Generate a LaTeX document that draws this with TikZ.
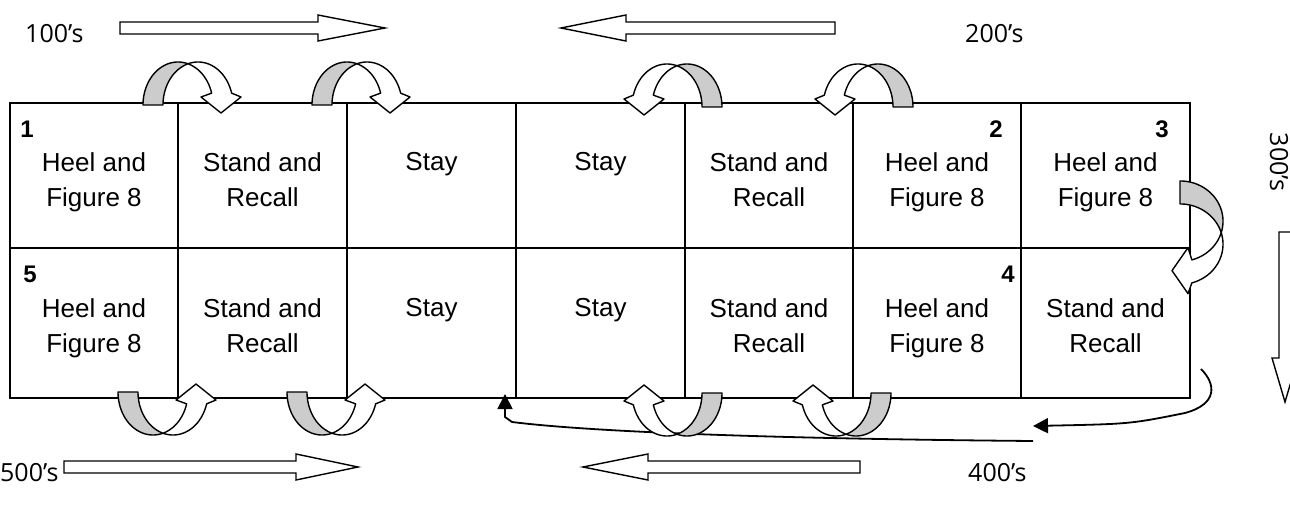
\documentclass[tikz,border=0pt]{standalone}
\usepackage{fontspec}
\setmainfont{Liberation Sans}
\newfontfamily\labelfont{Open Sans}
\usetikzlibrary{arrows.meta}
\definecolor{bandgray}{RGB}{204,204,204}
\tikzset{
  band/.style={draw=black, line width=1.4pt, line join=round},
  gridline/.style={draw=black, line width=2pt},
  blockarrow/.style={draw=black, fill=white, line width=1.4pt},
  celltext/.style={font=\fontsize{26}{35.5}\selectfont, align=center, anchor=north, inner sep=0pt},
  numtext/.style={font=\fontsize{24}{28}\selectfont\bfseries, anchor=base, inner sep=0pt},
  lbl/.style={font=\labelfont\fontsize{25}{30}\selectfont, inner sep=0pt},
  connector/.style={draw=black, line width=1.8pt, -{Triangle[length=15pt,width=15pt]}}
}
\newcommand\curvedarrow[1]{%
  \begin{scope}[#1]
    \filldraw[band, fill=bandgray] plot[domain=180:73.4,samples=40] ({-12+35*cos(\x)},{-43*sin(\x)}) -- plot[domain=106.6:180,samples=40] ({8+35*cos(\x)},{-43*sin(\x)}) -- cycle;
    \filldraw[band, fill=white] plot[domain=106.6:16,samples=40] ({8+35*cos(\x)},{-43*sin(\x)}) -- (51,-8) -- (31,8) -- (11,-8) -- plot[domain=16:73.4,samples=30] ({-12+35*cos(\x)},{-43*sin(\x)}) -- cycle;
  \end{scope}}
\newcommand\harrow[4]{% tail x, tip x, y, head base x
  \draw[blockarrow] (#1,#3-6) -- (#4,#3-6) -- (#4,#3-13) -- (#2,#3) -- (#4,#3+13) -- (#4,#3+6) -- (#1,#3+6) -- cycle;}
\begin{document}
\begin{tikzpicture}[x=1pt,y=-1pt]
\clip (0,0) rectangle (1290,508);
% grid
\draw[gridline] (10,103) rectangle (1190,398);
\draw[gridline] (10,248) -- (1190,248);
\foreach \cx in {178,347,516,685,853,1021} \draw[gridline] (\cx,103) -- (\cx,398);
% cell texts, top row
\node[celltext] (t1) at (94,152) {Heel and\\Figure 8};
\node[celltext] (t2) at (262.5,152) {Stand and\\Recall};
\node[celltext] (t3) at (431.5,152) {Stay};
\node[celltext] (t4) at (600.5,152) {Stay};
\node[celltext] (t5) at (769,152) {Stand and\\Recall};
\node[celltext] (t6) at (937,152) {Heel and\\Figure 8};
\node[celltext] (t7) at (1105.5,152) {Heel and\\Figure 8};
% bottom row
\node[celltext] (b1) at (94,298) {Heel and\\Figure 8};
\node[celltext] (b2) at (262.5,298) {Stand and\\Recall};
\node[celltext] (b3) at (431.5,298) {Stay};
\node[celltext] (b4) at (600.5,298) {Stay};
\node[celltext] (b5) at (769,298) {Stand and\\Recall};
\node[celltext] (b6) at (937,298) {Heel and\\Figure 8};
\node[celltext] (b7) at (1105.5,298) {Stand and\\Recall};
% numbers
\node[numtext] (n1) at (27,138) {1};
\node[numtext] (n2) at (996,138) {2};
\node[numtext] (n3) at (1162,138) {3};
\node[numtext] (n5) at (30,282) {5};
\node[numtext] (n4) at (1008,282) {4};
% connectors
\coordinate (c1s) at (1201,369);
\coordinate (c1e) at (1033,426);
\coordinate (c2s) at (1033,441);
\coordinate (c2e) at (505,394);
\draw[connector] (c1s) .. controls (1216,384) and (1218,404) .. (1185,413) .. controls (1130,424) .. (c1e);
\draw[connector] (c2s) .. controls (800,439) and (600,433) .. (512,422) -- (505,417) -- (c2e);
% curved arrows top
\curvedarrow{shift={(190,105)}}
\curvedarrow{shift={(359,105)}}
\curvedarrow{shift={(675,107)},xscale=-1}
\curvedarrow{shift={(866,107)},xscale=-1}
% curved arrows bottom
\curvedarrow{shift={(165,392)},yscale=-1}
\curvedarrow{shift={(334,392)},yscale=-1}
\curvedarrow{shift={(675,393)},xscale=-1,yscale=-1}
\curvedarrow{shift={(844,393)},xscale=-1,yscale=-1}
% right side
\curvedarrow{shift={(1180,235)},rotate=-90,xscale=1.15}
% block arrows and labels
\node[lbl, anchor=base west] (l100) at (25,43) {100’s};
\harrow{120}{385}{28}{318}
\node[lbl, anchor=base west] (l200) at (965,43) {200’s};
\harrow{835}{561}{28}{626}
\node[lbl, anchor=base west] (l500) at (0,481) {500’s};
\harrow{64}{358}{467}{296}
\node[lbl, anchor=base west] (l400) at (968,481) {400’s};
\harrow{860}{583}{467}{648}
\node[lbl, anchor=base, rotate=-90] (l300) at (1270,162) {300’s};
\draw[blockarrow] (1279,232) -- (1291,232) -- (1291,358) -- (1298,358) -- (1285,402) -- (1272,358) -- (1279,358) -- cycle;
\end{tikzpicture}
\end{document}
